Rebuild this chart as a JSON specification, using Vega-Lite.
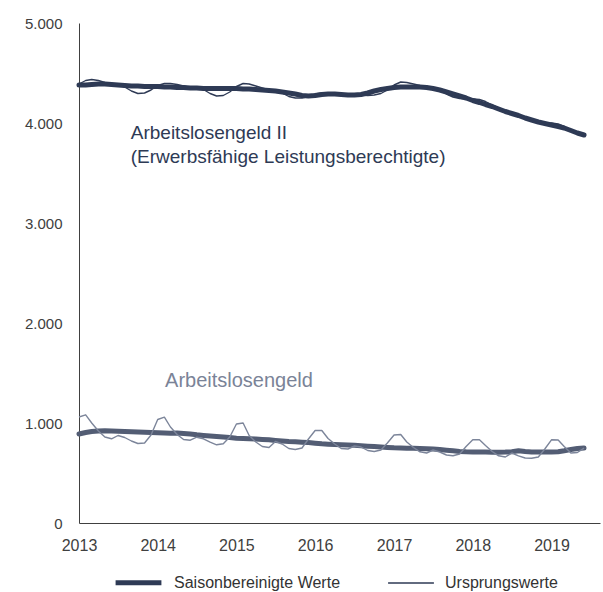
{
  "$schema": "https://vega.github.io/schema/vega-lite/v6.json",
  "width": 521,
  "height": 500,
  "autosize": {"type": "none"},
  "padding": {"left": 79, "top": 23, "right": 3, "bottom": 69},
  "background": "white",
  "config": {
    "view": {"stroke": null},
    "font": "Liberation Sans",
    "axis": {"grid": false, "ticks": false, "domainColor": "#404040", "domainWidth": 1, "labelColor": "#404040", "labelFont": "Liberation Sans", "labelFontSize": 16, "title": null}
  },
  "datasets": {
    "wide": [
      {"d":"2013-01-01","A2S":4380,"A2O":4390,"A1S":890,"A1O":1060},
      {"d":"2013-02-01","A2S":4380,"A2O":4425,"A1S":905,"A1O":1082},
      {"d":"2013-03-01","A2S":4385,"A2O":4435,"A1S":915,"A1O":1000},
      {"d":"2013-04-01","A2S":4390,"A2O":4425,"A1S":920,"A1O":920},
      {"d":"2013-05-01","A2S":4390,"A2O":4405,"A1S":922,"A1O":860},
      {"d":"2013-06-01","A2S":4385,"A2O":4390,"A1S":920,"A1O":842},
      {"d":"2013-07-01","A2S":4380,"A2O":4385,"A1S":918,"A1O":875},
      {"d":"2013-08-01","A2S":4375,"A2O":4360,"A1S":915,"A1O":855},
      {"d":"2013-09-01","A2S":4370,"A2O":4320,"A1S":912,"A1O":820},
      {"d":"2013-10-01","A2S":4370,"A2O":4295,"A1S":910,"A1O":795},
      {"d":"2013-11-01","A2S":4365,"A2O":4300,"A1S":908,"A1O":800},
      {"d":"2013-12-01","A2S":4365,"A2O":4330,"A1S":905,"A1O":880},
      {"d":"2014-01-01","A2S":4365,"A2O":4375,"A1S":903,"A1O":1035},
      {"d":"2014-02-01","A2S":4360,"A2O":4395,"A1S":900,"A1O":1058},
      {"d":"2014-03-01","A2S":4360,"A2O":4395,"A1S":898,"A1O":960},
      {"d":"2014-04-01","A2S":4355,"A2O":4385,"A1S":900,"A1O":885},
      {"d":"2014-05-01","A2S":4355,"A2O":4370,"A1S":895,"A1O":835},
      {"d":"2014-06-01","A2S":4350,"A2O":4355,"A1S":890,"A1O":828},
      {"d":"2014-07-01","A2S":4350,"A2O":4360,"A1S":882,"A1O":858},
      {"d":"2014-08-01","A2S":4345,"A2O":4335,"A1S":876,"A1O":842},
      {"d":"2014-09-01","A2S":4345,"A2O":4295,"A1S":870,"A1O":808},
      {"d":"2014-10-01","A2S":4345,"A2O":4270,"A1S":865,"A1O":782},
      {"d":"2014-11-01","A2S":4345,"A2O":4275,"A1S":860,"A1O":792},
      {"d":"2014-12-01","A2S":4345,"A2O":4310,"A1S":855,"A1O":860},
      {"d":"2015-01-01","A2S":4345,"A2O":4365,"A1S":848,"A1O":990},
      {"d":"2015-02-01","A2S":4340,"A2O":4395,"A1S":845,"A1O":1000},
      {"d":"2015-03-01","A2S":4340,"A2O":4390,"A1S":842,"A1O":875},
      {"d":"2015-04-01","A2S":4335,"A2O":4370,"A1S":840,"A1O":810},
      {"d":"2015-05-01","A2S":4330,"A2O":4350,"A1S":836,"A1O":765},
      {"d":"2015-06-01","A2S":4325,"A2O":4330,"A1S":832,"A1O":755},
      {"d":"2015-07-01","A2S":4320,"A2O":4330,"A1S":826,"A1O":815},
      {"d":"2015-08-01","A2S":4310,"A2O":4300,"A1S":820,"A1O":790},
      {"d":"2015-09-01","A2S":4300,"A2O":4265,"A1S":815,"A1O":745},
      {"d":"2015-10-01","A2S":4290,"A2O":4250,"A1S":812,"A1O":735},
      {"d":"2015-11-01","A2S":4275,"A2O":4250,"A1S":808,"A1O":750},
      {"d":"2015-12-01","A2S":4270,"A2O":4265,"A1S":804,"A1O":840},
      {"d":"2016-01-01","A2S":4275,"A2O":4290,"A1S":798,"A1O":925},
      {"d":"2016-02-01","A2S":4285,"A2O":4300,"A1S":792,"A1O":925},
      {"d":"2016-03-01","A2S":4290,"A2O":4300,"A1S":788,"A1O":845},
      {"d":"2016-04-01","A2S":4290,"A2O":4295,"A1S":785,"A1O":790},
      {"d":"2016-05-01","A2S":4285,"A2O":4285,"A1S":782,"A1O":745},
      {"d":"2016-06-01","A2S":4280,"A2O":4280,"A1S":780,"A1O":740},
      {"d":"2016-07-01","A2S":4280,"A2O":4285,"A1S":777,"A1O":770},
      {"d":"2016-08-01","A2S":4285,"A2O":4280,"A1S":772,"A1O":760},
      {"d":"2016-09-01","A2S":4300,"A2O":4275,"A1S":768,"A1O":725},
      {"d":"2016-10-01","A2S":4320,"A2O":4280,"A1S":764,"A1O":715},
      {"d":"2016-11-01","A2S":4335,"A2O":4295,"A1S":760,"A1O":730},
      {"d":"2016-12-01","A2S":4345,"A2O":4330,"A1S":756,"A1O":800},
      {"d":"2017-01-01","A2S":4355,"A2O":4380,"A1S":752,"A1O":880},
      {"d":"2017-02-01","A2S":4360,"A2O":4410,"A1S":750,"A1O":885},
      {"d":"2017-03-01","A2S":4360,"A2O":4405,"A1S":748,"A1O":810},
      {"d":"2017-04-01","A2S":4360,"A2O":4390,"A1S":747,"A1O":755},
      {"d":"2017-05-01","A2S":4360,"A2O":4375,"A1S":745,"A1O":712},
      {"d":"2017-06-01","A2S":4355,"A2O":4365,"A1S":742,"A1O":700},
      {"d":"2017-07-01","A2S":4345,"A2O":4355,"A1S":740,"A1O":730},
      {"d":"2017-08-01","A2S":4330,"A2O":4325,"A1S":735,"A1O":710},
      {"d":"2017-09-01","A2S":4310,"A2O":4290,"A1S":728,"A1O":680},
      {"d":"2017-10-01","A2S":4290,"A2O":4260,"A1S":722,"A1O":672},
      {"d":"2017-11-01","A2S":4270,"A2O":4245,"A1S":716,"A1O":690},
      {"d":"2017-12-01","A2S":4250,"A2O":4240,"A1S":712,"A1O":765},
      {"d":"2018-01-01","A2S":4225,"A2O":4240,"A1S":710,"A1O":832},
      {"d":"2018-02-01","A2S":4205,"A2O":4235,"A1S":709,"A1O":832},
      {"d":"2018-03-01","A2S":4185,"A2O":4215,"A1S":709,"A1O":775},
      {"d":"2018-04-01","A2S":4165,"A2O":4180,"A1S":708,"A1O":715},
      {"d":"2018-05-01","A2S":4140,"A2O":4150,"A1S":708,"A1O":672},
      {"d":"2018-06-01","A2S":4115,"A2O":4120,"A1S":709,"A1O":660},
      {"d":"2018-07-01","A2S":4095,"A2O":4100,"A1S":712,"A1O":700},
      {"d":"2018-08-01","A2S":4075,"A2O":4075,"A1S":722,"A1O":672},
      {"d":"2018-09-01","A2S":4050,"A2O":4045,"A1S":715,"A1O":650},
      {"d":"2018-10-01","A2S":4030,"A2O":4020,"A1S":710,"A1O":648},
      {"d":"2018-11-01","A2S":4010,"A2O":4000,"A1S":709,"A1O":660},
      {"d":"2018-12-01","A2S":3995,"A2O":3990,"A1S":709,"A1O":740},
      {"d":"2019-01-01","A2S":3980,"A2O":4000,"A1S":710,"A1O":832},
      {"d":"2019-02-01","A2S":3965,"A2O":3990,"A1S":712,"A1O":830},
      {"d":"2019-03-01","A2S":3950,"A2O":3965,"A1S":722,"A1O":765},
      {"d":"2019-04-01","A2S":3925,"A2O":3930,"A1S":735,"A1O":700},
      {"d":"2019-05-01","A2S":3900,"A2O":3900,"A1S":745,"A1O":705},
      {"d":"2019-06-01","A2S":3880,"A2O":3880,"A1S":750,"A1O":748}
    ],
    "labels": [
      {"d":"2013-08-29","v":3900,"t":"Arbeitslosengeld II","k":"ALG II"},
      {"d":"2013-08-29","v":3660,"t":"(Erwerbsfähige Leistungsberechtigte)","k":"ALG II"},
      {"d":"2014-02-04","v":1420,"t":"Arbeitslosengeld","k":"ALG"}
    ]
  },
  "layer": [
    {
      "data": {"name": "wide"},
      "transform": [
        {"fold": ["A2S", "A2O", "A1S", "A1O"], "as": ["s", "v"]},
        {"lookup": "s", "from": {"data": {"values": [
          {"s": "A2S", "a": "Saisonbereinigte Werte"},
          {"s": "A2O", "a": "Ursprungswerte"},
          {"s": "A1S", "a": "Saisonbereinigte Werte"},
          {"s": "A1O", "a": "Ursprungswerte"}
        ]}, "key": "s", "fields": ["a"]}},
        {"filter": "datum.a === 'Saisonbereinigte Werte'"}
      ],
      "mark": {"type": "line", "strokeCap": "round", "strokeJoin": "round"},
      "encoding": {
        "x": {"field": "d", "type": "temporal", "scale": {"type": "utc", "domain": [{"year": 2013, "month": 1, "date": 1, "utc": true}, {"year": 2019, "month": 8, "date": 14, "utc": true}]},
          "axis": {"values": [{"year": 2013, "month": 1, "date": 1, "utc": true}, {"year": 2014, "month": 1, "date": 1, "utc": true}, {"year": 2015, "month": 1, "date": 1, "utc": true}, {"year": 2016, "month": 1, "date": 1, "utc": true}, {"year": 2017, "month": 1, "date": 1, "utc": true}, {"year": 2018, "month": 1, "date": 1, "utc": true}, {"year": 2019, "month": 1, "date": 1, "utc": true}], "format": "%Y", "formatType": "utc", "labelFlush": false, "labelOverlap": false, "labelPadding": 14, "labelAlign": "center"}},
        "y": {"field": "v", "type": "quantitative", "scale": {"domain": [0, 5000], "nice": false},
          "axis": {"values": [0, 1000, 2000, 3000, 4000, 5000], "labelExpr": "replace(format(datum.value, ',.0f'), ',', '.')", "labelPadding": 17, "labelFontSize": 15}},
        "color": {"field": "s", "type": "nominal", "scale": {"domain": ["A2S", "A2O", "A1S", "A1O"], "range": ["#2e3a55", "#2e3a55", "#535d74", "#7c859a"]}, "legend": null},
        "strokeWidth": {"field": "a", "type": "nominal", "scale": {"domain": ["Saisonbereinigte Werte", "Ursprungswerte"], "range": [5, 1.4]},
          "legend": {"title": null, "orient": "none", "legendX": 34, "legendY": 534, "direction": "horizontal", "symbolType": "stroke", "symbolStrokeColor": "#2e3a55", "symbolSize": 2100, "labelFontSize": 16, "labelLimit": 400, "labelColor": "#333333", "labelFont": "Liberation Sans", "labelOffset": 10, "columnPadding": 44}}
      }
    },
    {
      "data": {"name": "wide"},
      "transform": [
        {"fold": ["A2S", "A2O", "A1S", "A1O"], "as": ["s", "v"]},
        {"lookup": "s", "from": {"data": {"values": [
          {"s": "A2S", "a": "Saisonbereinigte Werte"},
          {"s": "A2O", "a": "Ursprungswerte"},
          {"s": "A1S", "a": "Saisonbereinigte Werte"},
          {"s": "A1O", "a": "Ursprungswerte"}
        ]}, "key": "s", "fields": ["a"]}},
        {"filter": "datum.a === 'Ursprungswerte'"}
      ],
      "mark": {"type": "line", "strokeJoin": "round"},
      "encoding": {
        "x": {"field": "d", "type": "temporal"},
        "y": {"field": "v", "type": "quantitative"},
        "color": {"field": "s", "type": "nominal"},
        "strokeWidth": {"field": "a", "type": "nominal"}
      }
    },
    {
      "data": {"name": "labels"},
      "transform": [{"filter": "datum.k === 'ALG II'"}],
      "mark": {"type": "text", "align": "left", "baseline": "middle", "font": "Liberation Sans", "fontSize": 19, "color": "#2e3a55"},
      "encoding": {
        "x": {"field": "d", "type": "temporal"},
        "y": {"field": "v", "type": "quantitative"},
        "text": {"field": "t"}
      }
    },
    {
      "data": {"name": "labels"},
      "transform": [{"filter": "datum.k === 'ALG'"}],
      "mark": {"type": "text", "align": "left", "baseline": "middle", "font": "Liberation Sans", "fontSize": 20, "color": "#7a8397"},
      "encoding": {
        "x": {"field": "d", "type": "temporal"},
        "y": {"field": "v", "type": "quantitative"},
        "text": {"field": "t"}
      }
    }
  ]
}
